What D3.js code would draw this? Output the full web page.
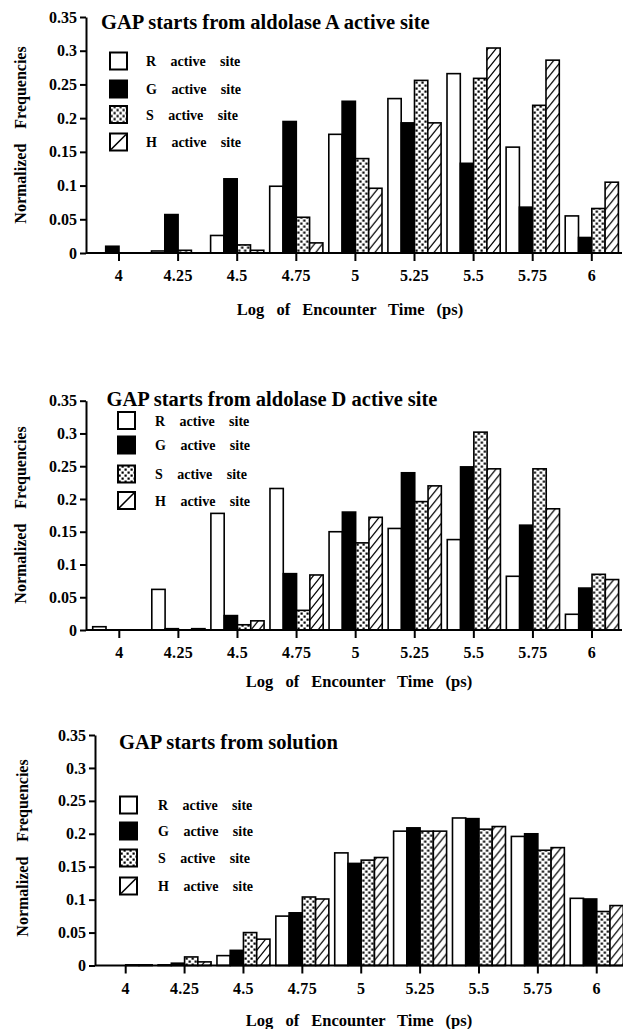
<!DOCTYPE html>
<html>
<head>
<meta charset="utf-8">
<script src="https://cdn.jsdelivr.net/npm/d3@7"></script>
<style>
  body { margin: 0; background: #fff; }
  svg { display: block; font-family: "Liberation Serif", "Times New Roman", serif; font-weight: bold; }
  svg text { font-family: "Liberation Serif", "Times New Roman", serif; font-weight: bold; }
</style>
</head>
<body>
<svg id="chart"></svg>
<script>
// Bins of log encounter time and the four active sites
const bins = ['4', '4.25', '4.5', '4.75', '5', '5.25', '5.5', '5.75', '6'];
const sites = ['R', 'G', 'S', 'H'];
const yTicks = [0, 0.05, 0.1, 0.15, 0.2, 0.25, 0.3, 0.35];

// GAP starts from aldolase A active site
const aldoA_R = [0, 0.003, 0.026, 0.099, 0.176, 0.229, 0.266, 0.157, 0.055];
const aldoA_G = [0.010, 0.057, 0.110, 0.195, 0.225, 0.193, 0.133, 0.068, 0.023];
const aldoA_S = [0, 0.004, 0.012, 0.053, 0.140, 0.256, 0.259, 0.219, 0.066];
const aldoA_H = [0, 0, 0.004, 0.015, 0.096, 0.193, 0.304, 0.286, 0.105];

// GAP starts from aldolase D active site
const aldoD_R = [0.005, 0.062, 0.178, 0.216, 0.150, 0.155, 0.138, 0.082, 0.024];
const aldoD_G = [0, 0.002, 0.022, 0.086, 0.180, 0.240, 0.249, 0.160, 0.064];
const aldoD_S = [0, 0, 0.008, 0.030, 0.133, 0.196, 0.302, 0.246, 0.085];
const aldoD_H = [0, 0.002, 0.014, 0.084, 0.172, 0.220, 0.246, 0.185, 0.077];

// GAP starts from solution
const sol_R = [0, 0.001, 0.015, 0.075, 0.171, 0.204, 0.224, 0.196, 0.102];
const sol_G = [0, 0.0035, 0.023, 0.080, 0.155, 0.209, 0.223, 0.200, 0.101];
const sol_S = [0.001, 0.013, 0.050, 0.104, 0.160, 0.204, 0.207, 0.175, 0.082];
const sol_H = [0.001, 0.0055, 0.040, 0.101, 0.164, 0.204, 0.211, 0.179, 0.091];

const fills = { R: '#fff', G: '#000', S: 'url(#dots)', H: 'url(#hatch)' };

class GroupedBar {

  /**
   * Class constructor with panel placement
   * @param {Object}
   * @param {Array}
   */
  constructor(_config, _data) {
    this.config = _config;
    this.data = _data;
    this.initVis();
  }

  initVis() {
    let vis = this;
    let c = vis.config;

    // band centred on tick "4", one step per bin
    vis.xScale = d3.scaleBand()
        .domain(bins)
        .range([c.firstTick - c.step / 2, c.firstTick - c.step / 2 + c.step * bins.length])
        .paddingInner(0.1)
        .paddingOuter(0.05);

    vis.xSub = d3.scaleBand()
        .domain(sites)
        .range([0, vis.xScale.bandwidth()]);

    vis.yScale = d3.scaleLinear()
        .domain([0, 0.35])
        .range([c.bottom, c.top]);

    vis.chart = c.parentElement.append('g');
  }

  renderVis() {
    let vis = this;
    let c = vis.config;

    let groups = vis.chart.selectAll('.group')
        .data(bins)
      .join('g')
        .attr('class', 'group')
        .attr('transform', d => `translate(${vis.xScale(d)},0)`);

    groups.selectAll('rect')
        .data((d, i) => sites.map(s => ({ site: s, value: vis.data[s][i] })).filter(e => e.value > 0))
      .join('rect')
        .attr('x', d => vis.xSub(d.site))
        .attr('y', d => vis.yScale(d.value))
        .attr('width', vis.xSub.bandwidth())
        .attr('height', d => c.bottom - vis.yScale(d.value))
        .attr('fill', d => fills[d.site])
        .attr('stroke', '#000')
        .attr('stroke-width', 1.6);

    // x axis: ticks at bin centres, long baseline
    let xAxis = d3.axisBottom(vis.xScale).tickSize(8).tickPadding(9).tickSizeOuter(0);
    let xg = vis.chart.append('g')
        .attr('transform', `translate(0,${c.bottom})`)
        .call(xAxis)
        .attr('font-family', null)
        .attr('font-size', 16);
    xg.select('.domain').remove();
    xg.selectAll('line').attr('stroke-width', 2);
    xg.selectAll('text').style('letter-spacing', '0.3px');
    vis.chart.append('line')
        .attr('x1', c.left).attr('x2', c.right)
        .attr('y1', c.bottom).attr('y2', c.bottom)
        .attr('stroke', '#000').attr('stroke-width', 2.2);

    let yAxis = d3.axisLeft(vis.yScale).tickValues(yTicks).tickFormat(d => String(d))
        .tickSize(6).tickPadding(3).tickSizeOuter(0);
    let yg = vis.chart.append('g')
        .attr('transform', `translate(${c.left},0)`)
        .call(yAxis)
        .attr('font-family', null)
        .attr('font-size', 16);
    yg.select('.domain').attr('stroke-width', 2);
    yg.selectAll('line').attr('stroke-width', 2);

    vis.chart.append('text')
        .attr('x', c.titleX).attr('y', c.titleY)
        .attr('font-size', 20.5)
        .text(c.title);

    vis.chart.append('text')
        .attr('transform', `translate(${c.yLabelX},${c.yLabelY}) rotate(-90)`)
        .attr('text-anchor', 'middle')
        .attr('font-size', 16)
        .style('word-spacing', '11px')
        .text('Normalized Frequencies');

    vis.chart.append('text')
        .attr('x', c.xLabelX).attr('y', c.xLabelY)
        .attr('text-anchor', 'middle')
        .attr('font-size', 16.5)
        .style('word-spacing', '8px')
        .text('Log of Encounter Time (ps)');

    // legend
    let legend = vis.chart.selectAll('.legend')
        .data(sites)
      .join('g')
        .attr('class', 'legend')
        .attr('transform', (d, i) => `translate(${c.legendX},${c.legendY[i]})`);
    legend.append('rect')
        .attr('x', 0).attr('y', -8.5)
        .attr('width', 17).attr('height', 17)
        .attr('fill', d => d === 'H' ? '#fff' : fills[d])
        .attr('stroke', '#000').attr('stroke-width', 2);
    legend.filter(d => d === 'H').append('line')
        .attr('x1', 1).attr('y1', 7.5).attr('x2', 16).attr('y2', -7.5)
        .attr('stroke', '#000').attr('stroke-width', 1.6);
    legend.append('text')
        .attr('x', c.legendTextX - c.legendX).attr('y', 5)
        .attr('font-size', 14)
        .style('word-spacing', '11px')
        .text(d => `${d} active site`);
  }
}

const svg = d3.select('#chart').attr('width', 623).attr('height', 1029);

const defs = svg.append('defs');
let dots = defs.append('pattern')
    .attr('id', 'dots').attr('patternUnits', 'userSpaceOnUse')
    .attr('width', 6).attr('height', 6);
dots.append('rect').attr('width', 6).attr('height', 6).attr('fill', '#fff');
dots.append('rect').attr('x', 0.5).attr('y', 0.5).attr('width', 2.2).attr('height', 2.2).attr('fill', '#000');
dots.append('rect').attr('x', 3.5).attr('y', 3.5).attr('width', 2.2).attr('height', 2.2).attr('fill', '#000');

let hatch = defs.append('pattern')
    .attr('id', 'hatch').attr('patternUnits', 'userSpaceOnUse')
    .attr('width', 8).attr('height', 10);
hatch.append('rect').attr('width', 8).attr('height', 10).attr('fill', '#fff');
hatch.append('path')
    .attr('d', 'M-0.8,11L8.8,-1M-0.8,1L0.8,-1M7.2,11L8.8,9')
    .attr('stroke', '#000').attr('stroke-width', 1.2);

const panels = [
  {
    title: 'GAP starts from aldolase A active site',
    data: { R: aldoA_R, G: aldoA_G, S: aldoA_S, H: aldoA_H },
    left: 86, right: 622, top: 17, bottom: 253, firstTick: 119, step: 59.1,
    titleX: 101, titleY: 29,
    legendX: 110, legendTextX: 146, legendY: [61, 89, 114.5, 142],
    yLabelX: 26, yLabelY: 135, xLabelX: 350, xLabelY: 315
  },
  {
    title: 'GAP starts from aldolase D active site',
    data: { R: aldoD_R, G: aldoD_G, S: aldoD_S, H: aldoD_H },
    left: 86, right: 622, top: 400.7, bottom: 630, firstTick: 119.3, step: 59.09,
    titleX: 106.5, titleY: 406,
    legendX: 118, legendTextX: 155, legendY: [420.5, 445, 474, 500.5],
    yLabelX: 26, yLabelY: 515, xLabelX: 359, xLabelY: 687
  },
  {
    title: 'GAP starts from solution',
    data: { R: sol_R, G: sol_G, S: sol_S, H: sol_H },
    left: 95, right: 623, top: 735, bottom: 965.5, firstTick: 125.7, step: 58.88,
    titleX: 119, titleY: 749,
    legendX: 120, legendTextX: 158, legendY: [805, 831, 858, 886],
    yLabelX: 28, yLabelY: 848, xLabelX: 359, xLabelY: 1026
  }
];

panels.forEach(p => {
  let chart = new GroupedBar(Object.assign({ parentElement: svg }, p), p.data);
  chart.renderVis();
});
</script>
</body>
</html>
